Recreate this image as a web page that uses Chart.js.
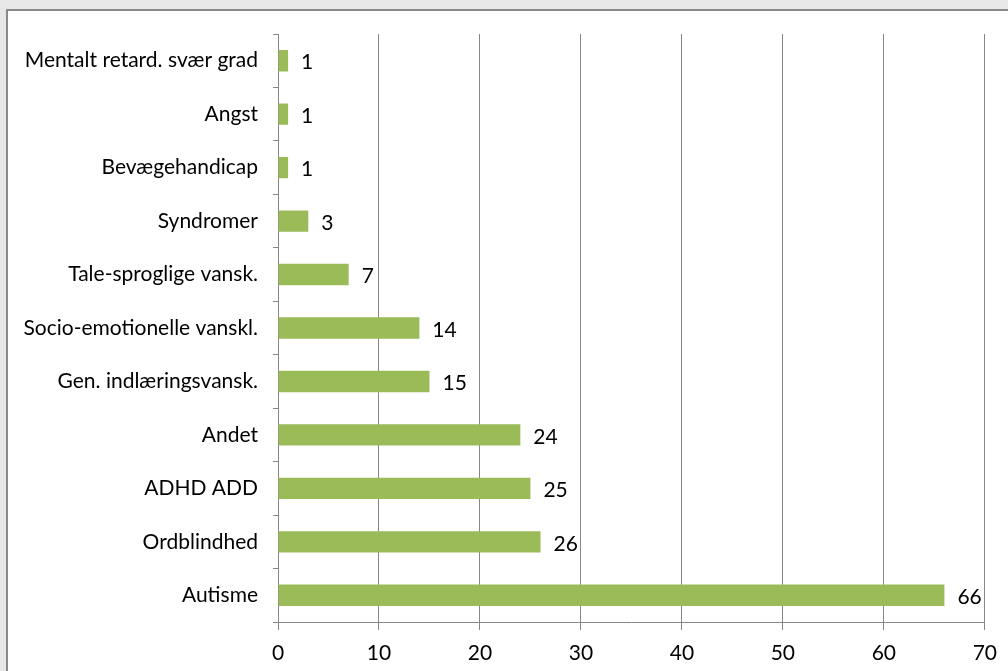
<!DOCTYPE html>
<html>
<head>
<meta charset="utf-8">
<script src="https://cdn.jsdelivr.net/npm/chart.js@4"></script>
<style>
  body { margin: 0; background: #e7e7e7; overflow: hidden; }
  #frame {
    position: absolute; left: 6px; top: 9px;
    width: 1100px; height: 700px;
    background: #fff; border: 2px solid #8a8a8a;
  }
  #wrap { position: absolute; left: 0; top: 0; width: 1008px; height: 671px; }
</style>
</head>
<body>
<div id="frame"></div>
<div id="wrap"><canvas id="chart"></canvas></div>
<script>
// categories, top to bottom
const categories = [
  "Mentalt retard. svær grad",
  "Angst",
  "Bevægehandicap",
  "Syndromer",
  "Tale-sproglige vansk.",
  "Socio-emotionelle vanskl.",
  "Gen. indlæringsvansk.",
  "Andet",
  "ADHD ADD",
  "Ordblindhed",
  "Autisme"
];
const counts = [1, 1, 1, 3, 7, 14, 15, 24, 25, 26, 66];
const xTicks = [0, 10, 20, 30, 40, 50, 60, 70];

const fontFamily = "Lato, 'Noto Sans', sans-serif";
const fontSize = 21;

// value labels right of each bar
const valueLabels = {
  id: "valueLabels",
  afterDatasetsDraw(chart) {
    const ctx = chart.ctx;
    const meta = chart.getDatasetMeta(0);
    ctx.save();
    ctx.font = fontSize + "px " + fontFamily;
    ctx.fillStyle = "#000";
    ctx.textAlign = "left";
    ctx.textBaseline = "middle";
    meta.data.forEach((bar, i) => {
      ctx.fillText(String(counts[i]), bar.x + 13, bar.y + 2);
    });
    ctx.restore();
  }
};

new Chart(document.getElementById("chart"), {
  type: "bar",
  data: {
    labels: categories,
    datasets: [{
      data: counts,
      backgroundColor: "#9bbb59",
      categoryPercentage: 1,
      barPercentage: 0.4
    }]
  },
  options: {
    indexAxis: "y",
    responsive: true,
    maintainAspectRatio: false,
    animation: false,
    layout: { padding: { left: 0, top: 34, right: 23, bottom: 0 } },
    plugins: {
      legend: { display: false },
      tooltip: { enabled: false }
    },
    scales: {
      x: {
        min: 0,
        max: 70,
        afterBuildTicks(scale) {
          scale.ticks = xTicks.map(v => ({ value: v }));
        },
        afterFit(scale) { scale.height = 49; },
        grid: {
          color: "#878787",
          lineWidth: 1,
          tickLength: 8
        },
        border: { color: "#878787", width: 1 },
        ticks: {
          color: "#000",
          padding: 11,
          font: { family: fontFamily, size: fontSize }
        }
      },
      y: {
        afterFit(scale) { scale.width = 278; },
        grid: {
          offset: true,
          drawOnChartArea: false,
          color: "#878787",
          tickLength: 5
        },
        border: { color: "#878787", width: 1 },
        ticks: {
          color: "#000",
          padding: 15,
          font: { family: fontFamily, size: fontSize }
        }
      }
    }
  },
  plugins: [valueLabels]
});
</script>
</body>
</html>
